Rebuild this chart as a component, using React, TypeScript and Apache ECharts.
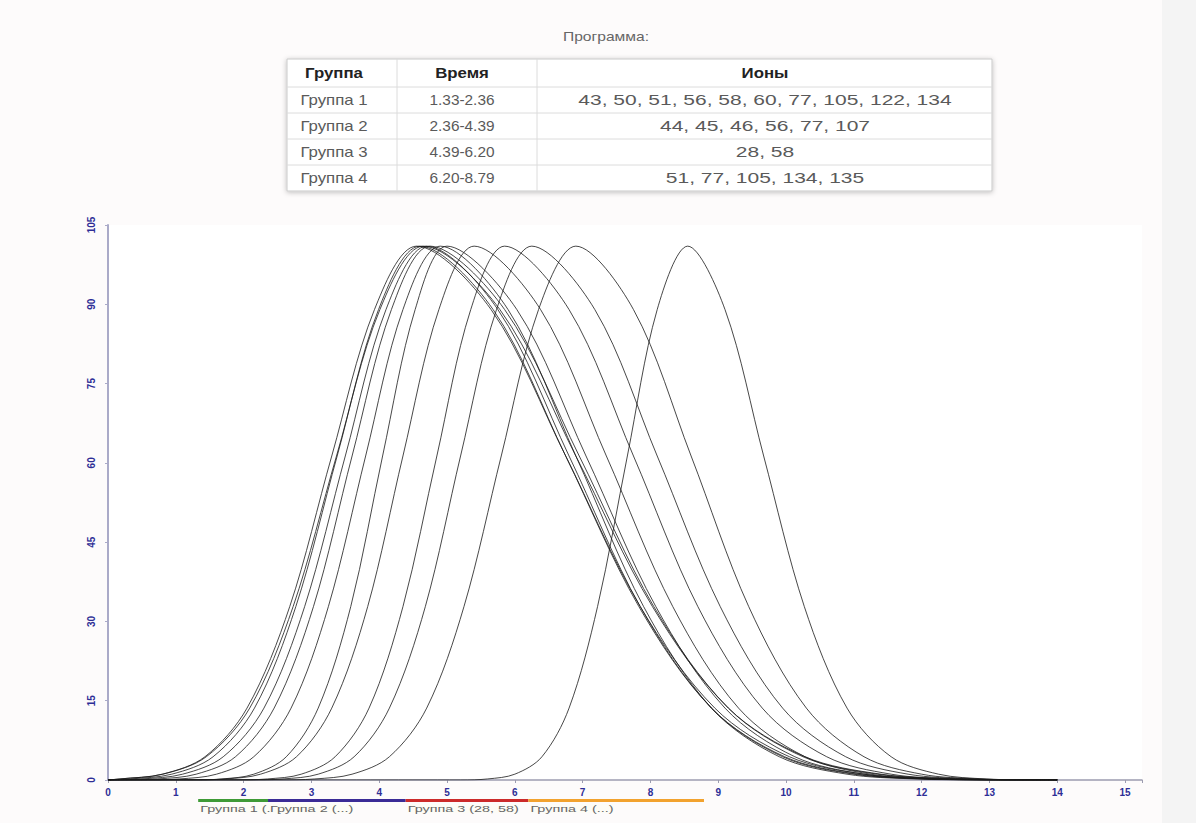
import React, { useEffect, useRef } from "react";
import * as echarts from "echarts";

const titleText = "Программа:";
const tableHeader = ["Группа", "Время", "Ионы"];
const groupNames = ["Группа 1", "Группа 2", "Группа 3", "Группа 4"];
const groupTimes = ["1.33-2.36", "2.36-4.39", "4.39-6.20", "6.20-8.79"];
const groupIons = [
  "43, 50, 51, 56, 58, 60, 77, 105, 122, 134",
  "44, 45, 46, 56, 77, 107",
  "28, 58",
  "51, 77, 105, 134, 135",
];
const groupStart = [1.33, 2.36, 4.39, 6.2];
const groupEnd = [2.36, 4.39, 6.2, 8.79];
const groupLabels = ["Группа 1 (...)", "Группа 2 (...)", "Группа 3 (28, 58)", "Группа 4 (...)"];
const groupColors = ["#3f9a36", "#3b2b96", "#cc2a2a", "#f2a22e"];

const xMin = 0;
const xMax = 15.25;
const xInterval = 1;
const yMin = 0;
const yMax = 105;
const yInterval = 15;

const curve1 = [[0, 0], [0.18, 0.2], [0.8, 1.1], [1.43, 4.4], [2.05, 13.6], [2.68, 32.8], [3.3, 61.3], [3.93, 89], [4.55, 101], [5.65, 89], [6.75, 61.3], [7.85, 32.8], [8.95, 13.6], [10.05, 4.4], [11.15, 1.1], [12.25, 0.2], [13.35, 0], [14, 0]];
const curve2 = [[0, 0], [0.33, 0.2], [0.94, 1.1], [1.55, 4.4], [2.16, 13.6], [2.77, 32.8], [3.38, 61.3], [3.99, 89], [4.6, 101], [5.68, 89], [6.75, 61.3], [7.83, 32.8], [8.9, 13.6], [9.98, 4.4], [11.05, 1.1], [12.13, 0.2], [13.2, 0], [14, 0]];
const curve3 = [[0, 0], [0.17, 0.2], [0.81, 1.1], [1.45, 4.4], [2.09, 13.6], [2.73, 32.8], [3.37, 61.3], [4.01, 89], [4.65, 101], [5.78, 89], [6.9, 61.3], [8.03, 32.8], [9.15, 13.6], [10.28, 4.4], [11.4, 1.1], [12.53, 0.2], [13.65, 0], [14, 0]];
const curve4 = [[0, 0], [0.5, 0.2], [1.1, 1.1], [1.7, 4.4], [2.3, 13.6], [2.9, 32.8], [3.5, 61.3], [4.1, 89], [4.7, 101], [5.75, 89], [6.8, 61.3], [7.85, 32.8], [8.9, 13.6], [9.95, 4.4], [11.0, 1.1], [12.05, 0.2], [13.1, 0], [14, 0]];
const curve5 = [[0, 0], [0.15, 0], [0.73, 0.2], [1.3, 1.1], [1.88, 4.4], [2.45, 13.6], [3.03, 32.8], [3.6, 61.3], [4.18, 89], [4.75, 101], [5.85, 89], [6.95, 61.3], [8.05, 32.8], [9.15, 13.6], [10.25, 4.4], [11.35, 1.1], [12.45, 0.2], [13.55, 0], [14, 0]];
const curve6 = [[0, 0], [0.5, 0], [1.05, 0.2], [1.6, 1.1], [2.15, 4.4], [2.7, 13.6], [3.25, 32.8], [3.8, 61.3], [4.35, 89], [4.9, 101], [5.9, 89], [6.9, 61.3], [7.9, 32.8], [8.9, 13.6], [9.9, 4.4], [10.9, 1.1], [11.9, 0.2], [12.9, 0], [14, 0]];
const curve7 = [[0, 0], [1.2, 0], [1.68, 0.2], [2.15, 1.1], [2.63, 4.4], [3.1, 13.6], [3.58, 32.8], [4.05, 61.3], [4.53, 89], [5.0, 101], [6.03, 89], [7.05, 61.3], [8.08, 32.8], [9.1, 13.6], [10.13, 4.4], [11.15, 1.1], [12.18, 0.2], [13.2, 0], [14, 0]];
const curve8 = [[0, 0], [1.2, 0], [1.73, 0.2], [2.25, 1.1], [2.78, 4.4], [3.3, 13.6], [3.83, 32.8], [4.35, 61.3], [4.88, 89], [5.4, 101], [6.38, 89], [7.35, 61.3], [8.33, 32.8], [9.3, 13.6], [10.28, 4.4], [11.25, 1.1], [12.23, 0.2], [13.2, 0], [14, 0]];
const curve9 = [[0, 0], [1.85, 0], [2.35, 0.2], [2.85, 1.1], [3.35, 4.4], [3.85, 13.6], [4.35, 32.8], [4.85, 61.3], [5.35, 89], [5.85, 101], [6.8, 89], [7.75, 61.3], [8.7, 32.8], [9.65, 13.6], [10.6, 4.4], [11.55, 1.1], [12.5, 0.2], [13.45, 0], [14, 0]];
const curve10 = [[0, 0], [2.05, 0], [2.58, 0.2], [3.1, 1.1], [3.63, 4.4], [4.15, 13.6], [4.68, 32.8], [5.2, 61.3], [5.73, 89], [6.25, 101], [7.18, 89], [8.1, 61.3], [9.03, 32.8], [9.95, 13.6], [10.88, 4.4], [11.8, 1.1], [12.73, 0.2], [13.65, 0], [14, 0]];
const curve11 = [[0, 0], [2.5, 0], [3.05, 0.2], [3.6, 1.1], [4.15, 4.4], [4.7, 13.6], [5.25, 32.8], [5.8, 61.3], [6.35, 89], [6.9, 101], [7.75, 89], [8.6, 61.3], [9.45, 32.8], [10.3, 13.6], [11.15, 4.4], [12.0, 1.1], [12.85, 0.2], [13.7, 0], [14, 0]];
const curve12 = [[0, 0], [5.2, 0], [5.6, 0.2], [6.0, 1.1], [6.4, 4.4], [6.8, 13.6], [7.22, 32.8], [7.66, 61.3], [8.1, 89], [8.55, 101], [9.1, 89], [9.67, 61.3], [10.27, 32.8], [10.9, 13.6], [11.55, 4.4], [12.25, 1.1], [12.95, 0.2], [13.75, 0], [14, 0]];

const curves = [curve1, curve2, curve3, curve4, curve5, curve6, curve7, curve8, curve9, curve10, curve11, curve12];

const FONT = "'Liberation Sans', Arial, sans-serif";

function txt(x: number, y: number, text: string, opts: any) {
  return {
    type: "text",
    x,
    y,
    scaleX: opts.scaleX ?? 1,
    silent: true,
    z: 10,
    style: {
      text,
      fill: opts.fill ?? "#555",
      fontSize: opts.fontSize ?? 14,
      fontWeight: opts.fontWeight ?? "normal",
      fontFamily: FONT,
      align: opts.align ?? "center",
      textAlign: opts.align ?? "center",
      verticalAlign: "middle",
      textVerticalAlign: "middle",
    },
  };
}

function buildGraphics() {
  const g: any[] = [];
  g.push({ type: "rect", silent: true, z: -1, shape: { x: 1162, y: 0, width: 34, height: 823 }, style: { fill: "#f4f4f4" } });
  g.push(txt(606, 37, titleText, { fill: "#666", fontSize: 12, scaleX: 1.3 }));
  const colX = [287, 397, 537, 992];
  const rowY = [59, 87, 113, 139, 165, 191];
  const colC = [334, 462, 765];
  const colScale = [1.2, 1.1, 1.5];
  g.push({
    type: "rect",
    silent: true,
    z: 5,
    shape: { x: colX[0], y: rowY[0], width: colX[3] - colX[0], height: rowY[5] - rowY[0] },
    style: { fill: "#ffffff", stroke: "#c9c9c9", lineWidth: 1, shadowBlur: 5, shadowColor: "rgba(0,0,0,0.25)", shadowOffsetY: 1 },
  });
  for (let r = 1; r < rowY.length - 1; r++) {
    g.push({ type: "line", silent: true, z: 6, shape: { x1: colX[0], y1: rowY[r], x2: colX[3], y2: rowY[r] }, style: { stroke: "#dcdcdc", lineWidth: 1 } });
  }
  for (let c = 1; c < colX.length - 1; c++) {
    g.push({ type: "line", silent: true, z: 6, shape: { x1: colX[c], y1: rowY[0], x2: colX[c], y2: rowY[5] }, style: { stroke: "#dcdcdc", lineWidth: 1 } });
  }
  tableHeader.forEach((h, c) => {
    g.push(txt(colC[c], (rowY[0] + rowY[1]) / 2, h, { fill: "#222", fontWeight: "bold", fontSize: 14, scaleX: 1.2 }));
  });
  groupNames.forEach((name, i) => {
    const cy = (rowY[i + 1] + rowY[i + 2]) / 2;
    const cells = [name, groupTimes[i], groupIons[i]];
    cells.forEach((t, c) => {
      g.push(txt(colC[c], cy, t, { fill: "#5a5a5a", fontSize: 14, scaleX: colScale[c] }));
    });
  });
  return g;
}

const axisLabelColor = "#2e2e96";

const option: any = {
  animation: false,
  backgroundColor: "#fdfbfb",
  grid: [
    { left: 108, top: 225, width: 1034, height: 555, show: true, backgroundColor: "#ffffff", borderWidth: 0, outerBoundsMode: "none" },
    { left: 108, top: 796, width: 1034, height: 6, outerBoundsMode: "none" },
  ],
  xAxis: [
    {
      type: "value",
      gridIndex: 0,
      min: xMin,
      max: xMax,
      interval: xInterval,
      axisLine: { show: true, lineStyle: { color: "#9c9cb0", width: 1.5 } },
      axisTick: { show: true, length: 3, lineStyle: { color: "#9c9cb0" } },
      axisLabel: {
        color: axisLabelColor,
        fontSize: 10,
        fontWeight: "bold",
        fontFamily: FONT,
        margin: 7,
        formatter: (v: number) => (Number.isInteger(v) ? String(v) : ""),
      },
      splitLine: { show: false },
    },
    { type: "value", gridIndex: 1, min: xMin, max: xMax, show: false },
  ],
  yAxis: [
    {
      type: "value",
      gridIndex: 0,
      min: yMin,
      max: yMax,
      interval: yInterval,
      axisLine: { show: true, lineStyle: { color: "#aaaac8", width: 2 } },
      axisTick: { show: true, length: 3, lineStyle: { color: "#aaaac8" } },
      axisLabel: {
        color: axisLabelColor,
        fontSize: 10,
        fontWeight: "bold",
        fontFamily: FONT,
        rotate: 90,
        margin: 12,
      },
      splitLine: { show: false },
    },
    { type: "value", gridIndex: 1, min: 0, max: 1, show: false },
  ],
  series: [
    ...curves.map((c, i) => ({
      type: "line",
      name: "c" + (i + 1),
      xAxisIndex: 0,
      yAxisIndex: 0,
      data: c,
      smooth: 0.33,
      symbol: "none",
      silent: true,
      lineStyle: { color: "#1a1a1a", width: 1, opacity: 0.8 },
    })),
    {
      type: "custom",
      xAxisIndex: 1,
      yAxisIndex: 1,
      silent: true,
      data: groupStart.map((s, i) => [s, groupEnd[i], i]),
      renderItem: (params: any, api: any) => {
        const i = api.value(2);
        const p0 = api.coord([api.value(0), 0]);
        const p1 = api.coord([api.value(1), 0]);
        return {
          type: "group",
          children: [
            {
              type: "rect",
              shape: { x: p0[0], y: p0[1] - 3, width: p1[0] - p0[0], height: 3 },
              style: { fill: groupColors[i] },
            },
            {
              type: "text",
              x: p0[0] + 2,
              y: p0[1] + 2,
              scaleX: 1.6,
              style: {
                text: groupLabels[i],
                fill: "#666",
                fontSize: 9,
                fontFamily: FONT,
                align: "left",
                textAlign: "left",
                verticalAlign: "top",
                textVerticalAlign: "top",
                backgroundColor: "#fdfcf6",
              },
            },
          ],
        };
      },
    },
  ],
  graphic: buildGraphics(),
};

export default function App() {
  const ref = useRef<HTMLDivElement>(null);
  useEffect(() => {
    if (!ref.current) return;
    const chart = echarts.init(ref.current, null, { renderer: "svg" });
    chart.setOption(option);
    return () => chart.dispose();
  }, []);
  return <div ref={ref} style={{ position: "fixed", left: 0, top: 0, width: 1196, height: 823 }} />;
}
